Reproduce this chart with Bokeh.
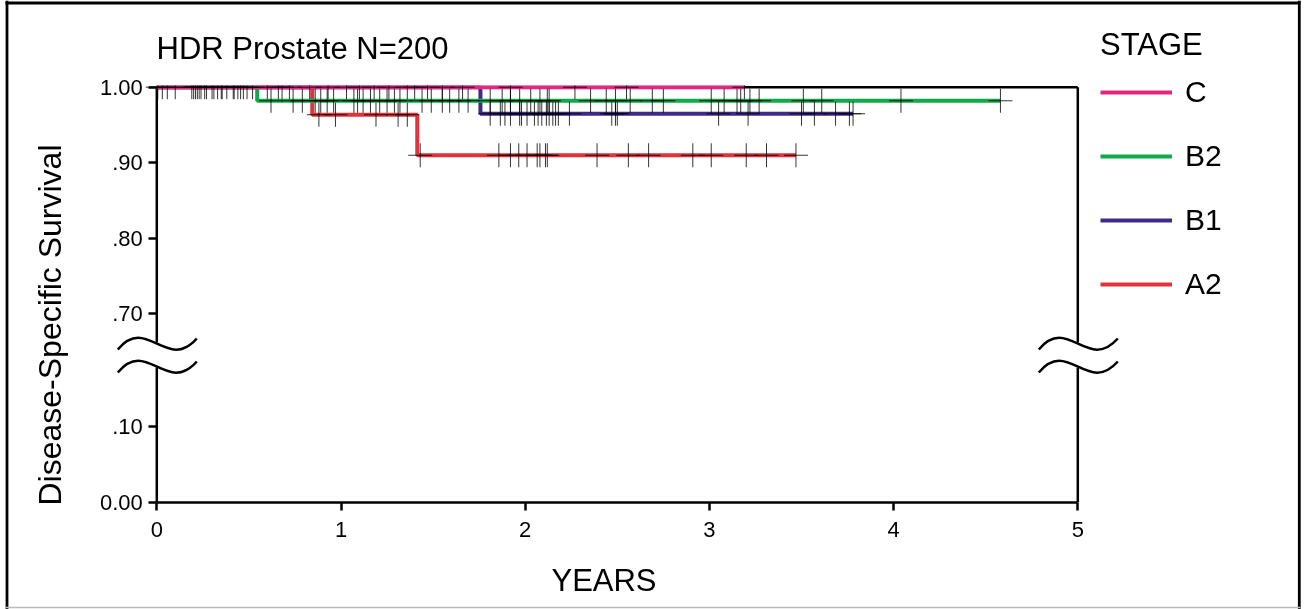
import numpy as np
from bokeh.plotting import figure
from bokeh.models import (Range1d, FixedTicker, Label, Legend, LegendItem, LinearAxis)
from bokeh.embed import file_html
from bokeh.resources import INLINE

# ---------------- data ----------------
stage_names = ["C", "B2", "B1", "A2"]
stage_colors = ["#E5267F", "#10A94B", "#3D2B86", "#E2333B"]

# Kaplan-Meier step curves (time in years, survival)
c_times = [0.0, 3.19]
c_surv = [1.0, 1.0]
b2_times = [0.0, 0.545, 4.58]
b2_surv = [1.0, 0.982, 0.982]
b1_times = [0.0, 1.757, 3.78]
b1_surv = [1.0, 0.9648, 0.9648]
a2_times = [0.0, 0.844, 1.414, 3.47]
a2_surv = [1.0, 0.9635, 0.9098, 0.9098]

# censoring times
c_censor = [0.005, 0.03, 0.057, 0.19, 0.20, 0.21, 0.22, 0.23, 0.24, 0.26, 0.27,
            0.31, 0.33, 0.355, 0.38, 0.415, 0.44, 0.455, 0.47, 0.49, 0.52, 0.60,
            0.66, 0.72, 0.83, 0.93, 1.03, 1.10, 1.18, 1.26, 1.36, 1.47, 1.55,
            1.66, 1.92, 2.27, 2.55, 3.19]
b2_censor = [0.10, 0.30, 0.62, 0.74, 0.79, 0.86, 0.89, 0.925, 0.96, 1.07, 1.09,
             1.12, 1.16, 1.21, 1.25, 1.29, 1.32, 1.44, 1.49, 1.55, 1.59, 1.64,
             1.69, 1.81, 1.875, 1.92, 1.97, 2.03, 2.08, 2.12, 2.13, 2.355, 2.44,
             2.49, 2.57, 2.69, 2.75, 3.01, 3.08, 3.15, 3.17, 3.22, 3.27, 3.51,
             3.61, 4.04, 4.58]
b1_censor = [0.35, 0.68, 1.40, 1.81, 1.865, 1.89, 1.92, 1.97, 1.98, 2.01, 2.05,
             2.07, 2.09, 2.115, 2.13, 2.15, 2.165, 2.18, 2.24, 2.47, 2.49, 2.50,
             3.05, 3.21, 3.50, 3.57, 3.685, 3.76, 3.78]
a2_censor = [0.42, 0.88, 0.97, 1.19, 1.31, 1.36, 1.43, 1.857, 1.92, 1.965, 2.01,
             2.065, 2.08, 2.11, 2.12, 2.39, 2.56, 2.67, 2.91, 3.01, 3.20, 3.31, 3.47]

# broken y axis: 0.00 and .10 are drawn at positions 0.45 and 0.55
y_tick_values = [0.45, 0.55, 0.70, 0.80, 0.90, 1.00]
y_tick_labels = ["0.00", ".10", ".70", ".80", ".90", "1.00"]
x_tick_values = [0, 1, 2, 3, 4, 5]

FONT = "Liberation Sans"

# ---------------- geometry helpers (page pixels -> data) ----------------
PXX = 184.2   # px per year
PXY = 754.5   # px per survival unit
def dx(page_x):
    return (page_x - 156.3) / PXX
def dy(page_y):
    return 1 - (page_y - 86.7) / PXY

W, H = 1305, 609
WL, WB = 70, 60   # reserved axis panels, kept outside the window

p = figure(width=W + WL, height=H + WB,
           x_range=Range1d(dx(0), dx(W)), y_range=Range1d(dy(H), dy(0)),
           x_axis_type=None, y_axis_type=None, output_backend="svg",
           toolbar_location=None, min_border_left=WL, min_border_right=0,
           min_border_top=0, min_border_bottom=WB)
p.title.visible = False
p.xgrid.visible = False
p.ygrid.visible = False
p.outline_line_color = None
p.background_fill_color = "white"
p.border_fill_color = "white"
p.styles = {"position": "fixed", "left": f"-{WL}px", "top": "0px"}

xaxis = LinearAxis(ticker=FixedTicker(ticks=x_tick_values), bounds=(0, 5),
                   fixed_location=0.45)
xaxis.axis_line_width = 2.5
xaxis.major_tick_line_width = 2.5
xaxis.major_tick_out = 8
xaxis.major_tick_in = 0
xaxis.minor_tick_line_color = None
xaxis.major_label_text_font = FONT
xaxis.major_label_text_font_size = "22px"
xaxis.major_label_text_color = "black"
xaxis.major_label_standoff = 12
p.add_layout(xaxis, "below")

yaxis = LinearAxis(ticker=FixedTicker(ticks=y_tick_values), fixed_location=0)
yaxis.axis_line_color = None
yaxis.major_tick_line_width = 2.5
yaxis.major_tick_out = 8
yaxis.major_tick_in = 0
yaxis.minor_tick_line_color = None
yaxis.major_label_text_font = FONT
yaxis.major_label_text_font_size = "22px"
yaxis.major_label_text_color = "black"
yaxis.major_label_standoff = 6
yaxis.major_label_overrides = {v: t for v, t in zip(y_tick_values, y_tick_labels)}
p.add_layout(yaxis, "left")

# outer border of the picture
p.segment(x0=[dx(6.5), dx(5), dx(1298.8)], y0=[dy(0), dy(2.5), dy(0)],
          x1=[dx(6.5), dx(1300), dx(1298.8)], y1=[dy(H), dy(2.5), dy(H)],
          line_color="black", line_width=2.8)
p.segment(x0=[dx(5)], y0=[dy(607)], x1=[dx(1300)], y1=[dy(607)],
          line_color="#BBBBBB", line_width=1.5)

# frame lines with axis breaks
gap_lo = dy(367)
gap_hi = dy(342)
p.segment(x0=[0, 0, 5, 5, 0], y0=[0.45, gap_hi, 0.45, gap_hi, 1.0],
          x1=[0, 0, 5, 5, 5], y1=[gap_lo, 1.0, gap_lo, 1.0, 1.0],
          line_color="black", line_width=2.5)

# break symbols (two tildes on each vertical axis)
bx, by, bcx0, bcy0, bcx1, bcy1, ex, ey = [], [], [], [], [], [], [], []
for ax_x in (0, 5):
    for shift in (0, 23):
        bx.append(ax_x - 39 / PXX); by.append(dy(349 + shift))
        bcx0.append(ax_x - 10 / PXX); bcy0.append(dy(314 + shift))
        bcx1.append(ax_x + 10 / PXX); bcy1.append(dy(372 + shift))
        ex.append(ax_x + 40 / PXX); ey.append(dy(338 + shift))
p.bezier(x0=bx, y0=by, x1=ex, y1=ey, cx0=bcx0, cy0=bcy0, cx1=bcx1, cy1=bcy1,
         line_color="black", line_width=2.5)

# curves
curves = {"A2": (a2_times, a2_surv, a2_censor),
          "B1": (b1_times, b1_surv, b1_censor),
          "B2": (b2_times, b2_surv, b2_censor),
          "C": (c_times, c_surv, c_censor)}
color_of = dict(zip(stage_names, stage_colors))
renderers = {}
for name in ["A2", "B1", "B2", "C"]:
    t, s, _ = curves[name]
    renderers[name] = p.step(x=t, y=s, mode="after", line_color=color_of[name],
                             line_width=4)

for name in ["A2", "B1", "B2", "C"]:
    t, s, cens = curves[name]
    idx = np.searchsorted(np.array(t), np.array(cens), side="right") - 1
    cy = np.array(s)[idx]
    p.scatter(x=cens, y=cy, marker="cross", size=24, line_color="black",
              line_width=1, line_alpha=0.8)

# the plot area ends at 1.00: hide censor marks above it
p.quad(left=[-0.1], right=[5.1], bottom=[1.0 + 2.0 / PXY], top=[1.0 + 14.0 / PXY],
       fill_color="white", line_color=None)

# legend
legend = Legend(items=[LegendItem(label=n, renderers=[renderers[n]]) for n in stage_names],
                title="STAGE", location=(1100, 308), orientation="vertical")
legend.border_line_color = None
legend.background_fill_alpha = 0
legend.padding = 0
legend.margin = 0
legend.spacing = 30
legend.label_standoff = 13
legend.glyph_width = 72
legend.glyph_height = 20
legend.title_standoff = 12
legend.label_text_font = FONT
legend.label_text_font_size = "30px"
legend.label_text_color = "black"
legend.title_text_font = FONT
legend.title_text_font_size = "31px"
legend.title_text_font_style = "normal"
legend.title_text_color = "black"
p.add_layout(legend)

# texts
p.add_layout(Label(x=dx(156), y=dy(48), text="HDR Prostate N=200",
                   text_font=FONT, text_font_size="31px", text_align="left",
                   text_baseline="alphabetic", text_color="black"))
p.add_layout(Label(x=dx(603.5), y=dy(580), text="YEARS",
                   text_font=FONT, text_font_size="31px", text_align="center",
                   text_baseline="alphabetic", text_color="black"))
p.add_layout(Label(x=dx(49), y=dy(324.5),
                   text="Disease-Specific Survival", angle=np.pi / 2,
                   text_font=FONT, text_font_size="32px", text_align="center",
                   text_baseline="alphabetic", text_color="black"))

open("out.html", "w").write(file_html(p, INLINE))
